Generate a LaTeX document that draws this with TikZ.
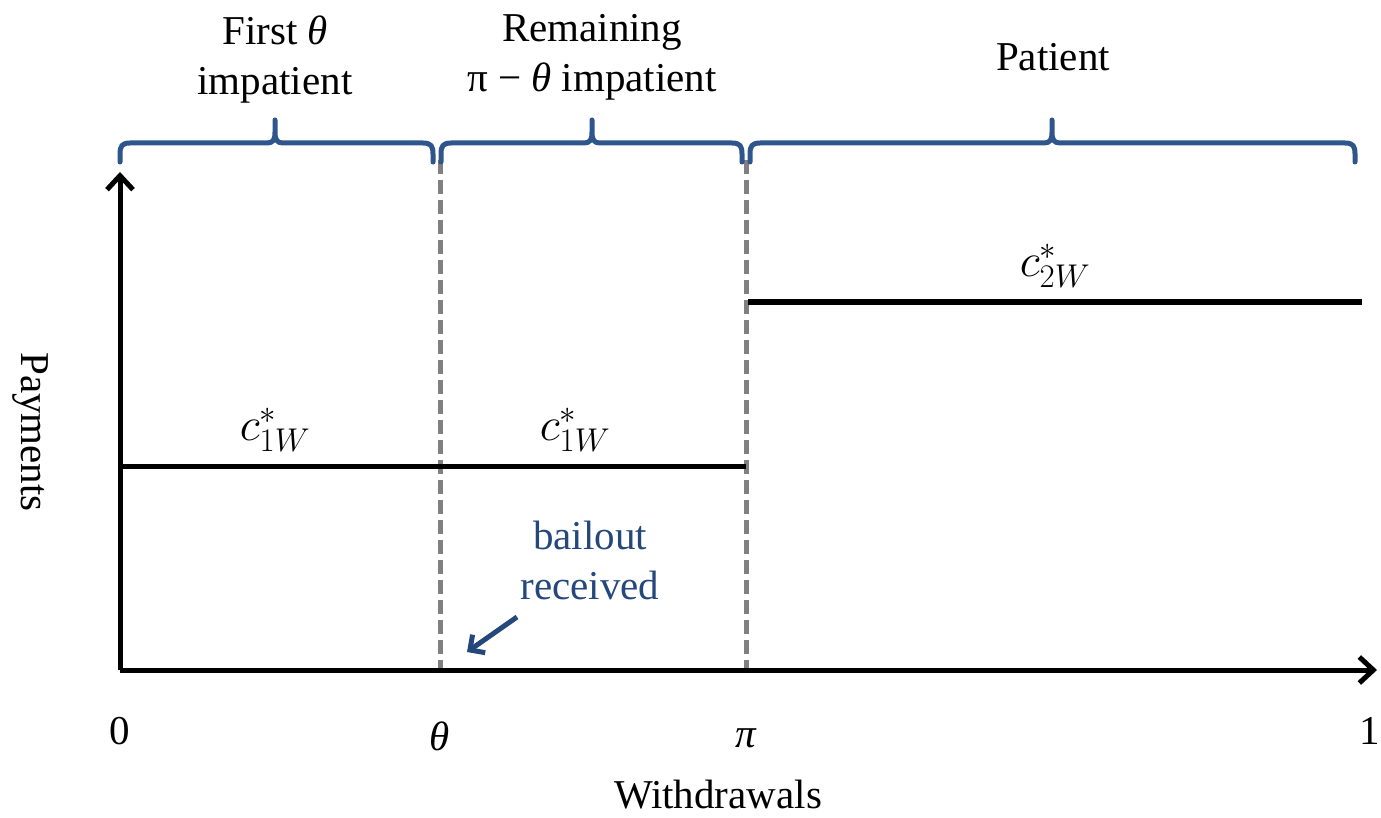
\RequirePackage{fix-cm}
\documentclass[tikz,border=0pt]{standalone}
\usepackage{fontspec}
\setmainfont{Liberation Serif}
\usetikzlibrary{arrows.meta}
\definecolor{bracecol}{RGB}{46,86,140}
\definecolor{bailcol}{RGB}{36,72,124}
\definecolor{dashcol}{RGB}{128,128,128}
\tikzset{
  axis/.style={line width=5pt,-{Straight Barb[length=14pt,width=26pt,line width=5pt]}},
  level/.style={line width=5pt},
  divider/.style={line width=5pt,dashcol,dash pattern=on 14pt off 6pt},
  bracepath/.style={line width=5pt,bracecol,line cap=round,line join=round},
  lbl/.style={font=\fontsize{41}{50}\selectfont,align=center,inner sep=0pt},
  mlbl/.style={font=\fontsize{47}{56}\selectfont,inner sep=0pt},
}
\newcommand{\brc}[3]{% x0, x1, tip
  \draw[bracepath] (#1,162) -- (#1,154) .. controls (#1,146) and (#1+2,143) .. (#1+10,143)
    -- (#3-8,143) .. controls (#3-2,143) and (#3,140) .. (#3,132) -- (#3,120)
    (#3,132) .. controls (#3,140) and (#3+2,143) .. (#3+8,143)
    -- (#2-10,143) .. controls (#2-2,143) and (#2,146) .. (#2,154) -- (#2,162);
}
\begin{document}
\begin{tikzpicture}[x=1pt,y=-1pt]
\useasboundingbox (0,0) rectangle (1381,818);
% dashed dividers
\coordinate (t1) at (440,160); \coordinate (b1) at (440,670);
\coordinate (t2) at (746,160); \coordinate (b2) at (746,670);
\draw[divider] (t1) -- (b1);
\draw[divider] (t2) -- (b2);
% axes
\coordinate (O) at (120,670);
\coordinate (ytop) at (120,172);
\coordinate (xend) at (1377,670);
\draw[axis] (O) -- (ytop);
\draw[axis] (O) -- (xend);
% levels
\coordinate (l1a) at (120,466); \coordinate (l1b) at (746,466);
\coordinate (l2a) at (748,302); \coordinate (l2b) at (1362,302);
\draw[level] (l1a) -- (l1b);
\draw[level] (l2a) -- (l2b);
% level labels
\node[mlbl] (c1a) at (275,430) {$c^{*}_{1W}$};
\node[mlbl] (c1b) at (575,430) {$c^{*}_{1W}$};
\node[mlbl] (c2) at (1055,266) {$c^{*}_{2W}$};
% braces
\brc{120}{433}{275}
\brc{441}{742}{592}
\brc{750}{1355}{1052}
% brace labels
\node[lbl] (g1) at (275,60) {First \textit{θ}\\impatient};
\node[lbl] (g2) at (592,57) {Remaining\\π − \textit{θ} impatient};
\node[lbl] (g3) at (1053,57) {Patient};
% bailout
\node[lbl,text=bailcol] (bail) at (590,560) {bailout\\received};
\coordinate (bailtip) at (467,652);
\draw[line width=5pt,bailcol,-{Straight Barb[length=11pt,width=22pt,line width=5pt]}] (517,617) -- (bailtip);
% tick labels
\node[lbl] (x0) at (120,731) {0};
\node[lbl] (xth) at (440,736) {\textit{θ}};
\node[lbl] (xpi) at (746,738) {\textit{π}};
\node[lbl] (x1) at (1370,731) {1};
\node[lbl] (xl) at (718,795) {Withdrawals};
\node[lbl,rotate=-90] (yl) at (30,432) {Payments};
\end{tikzpicture}
\end{document}
